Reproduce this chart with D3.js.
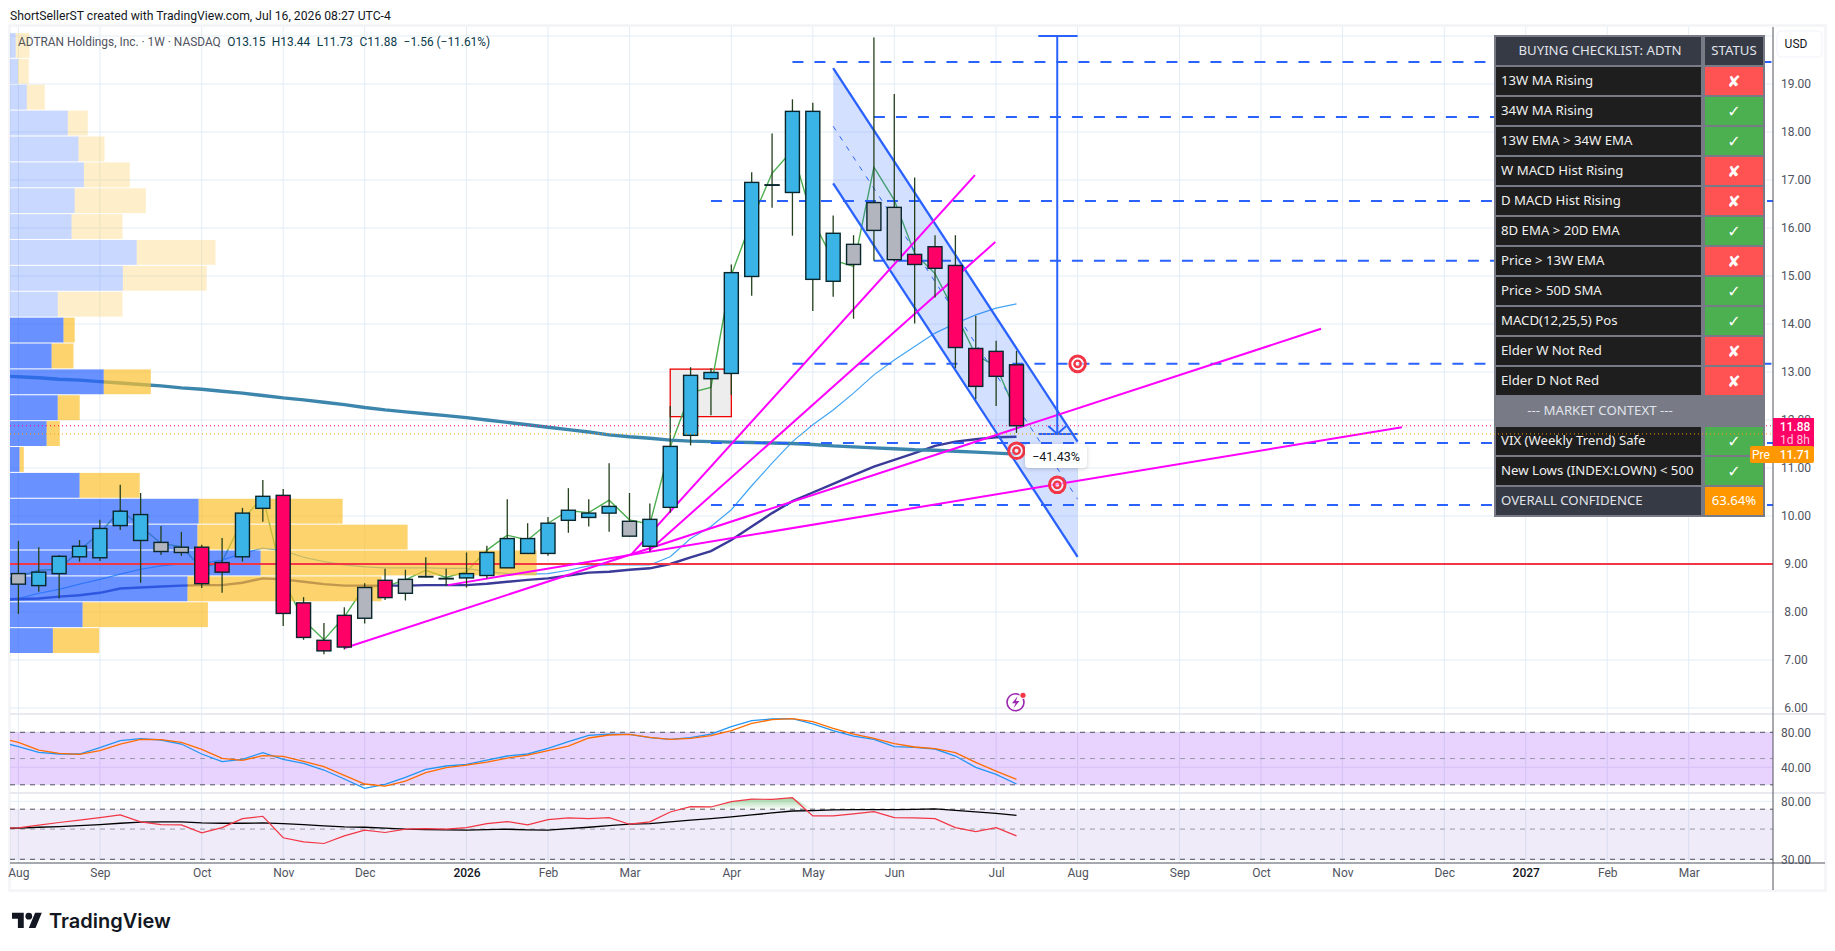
<!DOCTYPE html>
<html>
<head>
<meta charset="utf-8">
<style>
  body { margin: 0; background: #fff; }
  text { font-family: Roboto, sans-serif; }
</style>
<script src="https://cdn.jsdelivr.net/npm/d3@7"></script>
</head>
<body>
<div id="chart"></div>
<script>
// weekly candles, index 0 is the first week of Aug 2025
const highs = [9.48,9.35,9.19,9.50,9.92,10.65,10.48,9.79,9.67,9.40,9.54,10.17,10.75,10.56,8.31,7.77,8.10,8.60,8.90,8.88,9.14,8.90,9.24,9.38,10.35,9.85,9.98,10.58,10.35,11.10,10.48,10.26,12.29,13.10,13.08,15.24,17.16,17.97,18.68,18.61,16.26,15.85,19.97,18.79,17.05,15.85,15.85,14.17,13.65,13.44];
const lows = [7.96,8.42,8.28,9.05,9.06,9.71,8.61,9.19,9.17,8.50,8.40,9.05,9.88,7.71,7.42,7.12,7.22,7.76,8.25,8.24,8.72,8.55,8.51,8.70,8.92,9.22,9.17,9.65,9.78,9.67,9.58,9.26,10.07,11.47,12.10,12.52,14.59,16.42,15.84,14.27,14.57,14.11,15.32,15.30,14.01,14.55,13.08,12.43,12.29,11.73];
const bodyTop = [8.80,8.83,9.16,9.37,9.74,10.10,10.03,9.45,9.35,9.35,9.03,10.06,10.41,10.43,8.19,7.41,7.93,8.51,8.66,8.68,8.74,8.70,8.80,9.24,9.53,9.53,9.85,10.12,10.06,10.20,9.89,9.93,11.45,12.93,12.99,15.07,16.95,16.90,18.43,18.43,15.89,15.66,16.53,16.43,15.45,15.61,15.22,13.49,13.43,13.15];
const bodyBottom = [8.58,8.55,8.80,9.15,9.13,9.80,9.49,9.26,9.24,8.59,8.83,9.15,10.16,7.97,7.47,7.19,7.27,7.87,8.30,8.39,8.74,8.70,8.71,8.76,8.92,9.22,9.22,9.91,9.97,10.06,9.58,9.37,10.18,11.68,12.86,12.97,14.99,16.90,16.74,14.93,14.89,15.24,15.95,15.34,15.24,15.16,13.51,12.70,12.91,11.88];
const impulse = 'gbbbbbbggrrbbrrrrgrgbbbbbbbbbbgbbbbbbbbbbgggrrrrrr'.slice(0, 50).split('');

// overlay series all start one week before the first candle so they reach the pane edge
const closeLine = [8.60,8.74,8.87,8.89,9.29,9.64,10.13,9.78,9.43,9.36,8.91,9.05,9.92,10.40,8.67,7.83,7.42,7.90,8.53,8.53,8.67,8.87,8.72,8.84,9.29,9.60,9.50,9.85,10.11,10.07,10.33,9.92,9.83,11.44,12.57,12.68,15.02,16.16,17.14,17.62,16.16,15.33,15.20,17.27,16.58,15.47,15.05,14.22,13.35,13.12,12.14];
const maFast = [8.20,8.28,8.39,8.47,8.58,8.68,8.79,8.89,8.96,9.00,9.01,9.08,9.22,9.33,9.28,9.14,9.05,8.98,8.94,8.92,8.92,8.92,8.91,8.91,8.84,8.80,8.79,8.80,8.87,8.96,8.98,8.98,8.98,9.15,9.53,9.78,10.13,10.63,11.10,11.55,11.90,12.21,12.56,12.94,13.25,13.53,13.81,14.01,14.19,14.33,14.42];
const maMid = [8.26,8.27,8.28,8.32,8.35,8.40,8.49,8.51,8.53,8.55,8.56,8.56,8.61,8.70,8.68,8.63,8.58,8.55,8.55,8.55,8.55,8.56,8.56,8.56,8.59,8.63,8.67,8.70,8.76,8.82,8.84,8.88,8.91,9.00,9.14,9.27,9.50,9.78,10.06,10.31,10.49,10.67,10.85,11.03,11.17,11.31,11.46,11.55,11.60,11.64,11.65];
const maSlow = [12.92,12.90,12.88,12.85,12.83,12.80,12.77,12.74,12.71,12.67,12.64,12.60,12.56,12.51,12.46,12.42,12.37,12.32,12.26,12.21,12.17,12.13,12.09,12.05,12.00,11.95,11.90,11.85,11.80,11.75,11.69,11.65,11.62,11.58,11.56,11.55,11.54,11.53,11.52,11.51,11.49,11.46,11.44,11.42,11.40,11.38,11.37,11.35,11.33,11.31,11.29];

// volume profile, top row first
const upVolume = [5.7,8,16.8,57.8,68.5,73.9,64.7,61.6,126.7,112.9,47.8,53.6,41.7,93.8,47.8,36.7,9.6,69.7,188.7,187.5,250.7,177.6,72.7,42.9];
const totalVolume = [19.5,18.8,34.8,77.7,94.5,119.8,135.9,112.5,205.5,196.7,112.5,64.7,63.5,140.8,69.7,49.8,13.8,129.7,332.6,397.6,526.6,371.6,197.9,89.2];

// stochastic pane
const stochK = [69.6,63.6,57.1,55.2,55.2,62.4,70.4,72.7,71.2,66.6,55.2,46.4,49.1,56.7,49.1,44.5,36.9,26.6,15.9,20.5,28.5,37.7,41.5,43.4,48.3,52.9,55.2,61.7,69.3,76.5,78.0,77.7,73.8,71.9,73.8,78.0,86.4,93.3,95.2,95.6,89.5,81.9,75.7,71.9,63.6,62.8,60.9,52.9,39.9,31.9,20.9];
const stochD = [74.2,68.5,59.7,55.9,54.8,59.0,66.6,71.9,71.6,68.5,60.5,50.2,47.9,53.3,52.5,46.8,40.7,30.8,20.9,18.6,24.3,33.8,39.6,42.6,46.0,50.6,54.0,59.0,64.3,73.5,76.9,77.7,74.2,71.9,73.1,76.1,81.8,90.2,94.4,95.6,92.1,84.5,78.0,73.1,67.0,63.2,61.3,56.7,45.6,35.7,26.2];

// rsi pane
const rsi = [50.5,51.0,53.4,55.9,58.1,60.7,63.5,56.5,54.0,53.7,46.9,51.3,59.7,62.1,43.2,40.3,39.2,44.6,49.1,47.2,49.9,50.4,49.9,51.3,54.9,56.8,53.7,58.7,60.4,59.7,60.7,54.3,56.5,66.8,73.1,72.7,79.5,83.1,82.6,85.0,62.5,62.5,64.6,67.2,60.7,60.4,59.7,51.3,47.9,51.3,44.6];
const rsiMa = [50.6,50.8,51.6,52.2,53.0,54.0,55.2,56.2,56.5,56.5,55.5,55.2,55.2,55.5,54.9,54.0,52.8,51.9,51.6,50.8,49.9,49.6,49.4,49.1,49.6,49.9,49.4,49.1,50.4,51.6,53.0,54.3,54.9,56.5,58.1,59.7,61.4,63.5,65.7,67.9,68.3,69.1,69.5,69.5,69.5,69.9,70.3,68.7,66.8,65.3,63.1];

// axes
const priceTicks = [20,19,18,17,16,15,14,13,12,11,10,9,8,7,6];
const monthWeeks = [0,4,9,13,17,22,26,30,35,39,43,48,52,57,61,65,70,74,78,82];
const monthLabels = ['Aug','Sep','Oct','Nov','Dec','2026','Feb','Mar','Apr','May','Jun','Jul','Aug','Sep','Oct','Nov','Dec','2027','Feb','Mar'];

// drawings, as [week, price]
const trendLines = [
  [[30.07,9.19],[46.96,17.10]],
  [[31.0,9.29],[47.96,15.71]],
  [[21.08,8.56],[67.92,11.85]],
  [[16.02,7.25],[63.95,13.90]]
];
const levelPrices = [19.46,18.31,16.56,15.32,13.17,11.52,10.23];
const levelStarts = [38,42,34,42,38,34,34];
const channelTop = [[40,19.33],[52,11.55]];
const channelMid = [[40,18.12],[52,10.35]];
const channelBottom = [[40,16.93],[52,9.15]];
const targets = [[52,13.17],[49,11.36],[51,10.65]];

// checklist
const checkRows = ['13W MA Rising','34W MA Rising','13W EMA > 34W EMA','W MACD Hist Rising','D MACD Hist Rising','8D EMA > 20D EMA','Price > 13W EMA','Price > 50D SMA','MACD(12,25,5) Pos','Elder W Not Red','Elder D Not Red','--- MARKET CONTEXT ---','VIX (Weekly Trend) Safe','New Lows (INDEX:LOWN) < 500','OVERALL CONFIDENCE'];
const checkStatus = ['x','v','v','x','x','v','x','v','v','x','x','','v','v','63.64%'];

const W = 1835, H = 951;
const left = 10, axisX = 1773, rightEdge = 1825;
const mainTop = 27, mainBottom = 713;
const stochTop = 715, stochBottom = 792;
const rsiTop = 794, rsiBottom = 863;

const svg = d3.select('#chart').append('svg')
  .attr('width', W).attr('height', H)
  .style('display', 'block');

const x = d3.scaleLinear().domain([0, 49]).range([18.4, 1016.5]);
const y = d3.scaleLinear().domain([19, 6]).range([84, 708]);
const yStoch = d3.scaleLinear().domain([80, 40]).range([732.3, 767.3]);
const yRsi = d3.scaleLog().domain([30, 80]).range([859.3, 801.3]);
const xVol = d3.scaleLinear().domain([0, 100]).range([left, left + 100]);
const yVol = d3.scaleBand().domain(d3.range(upVolume.length)).range([33, 653]).paddingInner(0.04);

const defs = svg.append('defs');
[['mainClip', mainTop, mainBottom], ['stochClip', stochTop, stochBottom], ['rsiClip', rsiTop, rsiBottom]].forEach(c => {
  defs.append('clipPath').attr('id', c[0]).append('rect')
    .attr('x', left).attr('y', c[1]).attr('width', axisX - left).attr('height', c[2] - c[1]);
});
const grad = defs.append('linearGradient').attr('id', 'obFill').attr('x1', 0).attr('x2', 0).attr('y1', 0).attr('y2', 1);
grad.append('stop').attr('offset', '0%').attr('stop-color', '#4caf50').attr('stop-opacity', 0.55);
grad.append('stop').attr('offset', '100%').attr('stop-color', '#4caf50').attr('stop-opacity', 0.02);

// outer frame
svg.append('rect').attr('x', 9.5).attr('y', 25.5).attr('width', 1816).attr('height', 865)
  .attr('fill', 'none').attr('stroke', '#f3f4f6').attr('stroke-width', 2.5);

// grid
const grid = svg.append('g').attr('stroke', '#e4edf4').attr('stroke-width', 1);
grid.selectAll('.v').data(monthWeeks).join('line')
  .attr('x1', d => x(d)).attr('x2', d => x(d)).attr('y1', mainTop).attr('y2', rsiBottom);
grid.selectAll('.h').data(priceTicks).join('line')
  .attr('x1', left).attr('x2', axisX).attr('y1', d => y(d)).attr('y2', d => y(d));
grid.selectAll('.hs').data([80, 40]).join('line')
  .attr('x1', left).attr('x2', axisX).attr('y1', d => yStoch(d)).attr('y2', d => yStoch(d));
grid.selectAll('.hr').data([80, 30]).join('line')
  .attr('x1', left).attr('x2', axisX).attr('y1', d => yRsi(d)).attr('y2', d => yRsi(d));

const main = svg.append('g').attr('clip-path', 'url(#mainClip)');
const lineFrom = d3.line().x((d, i) => x(i - 1)).y(d => y(d));
const seg = d3.line().x(d => x(d[0])).y(d => y(d[1]));

// red box behind the candles
main.append('rect')
  .attr('x', x(32)).attr('y', y(13.06))
  .attr('width', x(35) - x(32)).attr('height', y(12.07) - y(13.06))
  .attr('fill', '#ededed').attr('stroke', '#f00000').attr('stroke-width', 1.3);

// averages sit under the volume profile
const maStyles = [
  [closeLine, '#4caf50', 1.4],
  [maFast, '#42a5f5', 1.2],
  [maMid, '#3a3a98', 2.4],
  [maSlow, '#3c86ad', 3.4]
];
maStyles.forEach(m => {
  main.append('path').attr('d', lineFrom(m[0]))
    .attr('fill', 'none').attr('stroke', m[1]).attr('stroke-width', m[2]);
});

// volume profile
const vp = main.append('g');
vp.selectAll('.up').data(upVolume).join('rect')
  .attr('x', xVol(0)).attr('y', (d, i) => yVol(i))
  .attr('width', d => xVol(d) - xVol(0)).attr('height', yVol.bandwidth())
  .attr('fill', (d, i) => i < 11 ? 'rgba(41,98,255,.25)' : 'rgba(41,98,255,.7)');
vp.selectAll('.down').data(totalVolume).join('rect')
  .attr('x', (d, i) => xVol(upVolume[i])).attr('y', (d, i) => yVol(i))
  .attr('width', (d, i) => xVol(d) - xVol(upVolume[i])).attr('height', yVol.bandwidth())
  .attr('fill', (d, i) => i < 11 ? 'rgba(251,192,45,.25)' : 'rgba(251,192,45,.7)');

// 9.00 line and last price
main.append('line').attr('x1', left).attr('x2', axisX).attr('y1', y(9)).attr('y2', y(9))
  .attr('stroke', '#f23645').attr('stroke-width', 2.2);
main.append('line').attr('x1', left).attr('x2', axisX).attr('y1', y(11.88)).attr('y2', y(11.88))
  .attr('stroke', '#ff0066').attr('stroke-width', 1).attr('stroke-dasharray', '1 3');

// channel
const channel = main.append('g');
channel.append('path')
  .attr('d', seg([channelTop[0], channelTop[1], channelBottom[1], channelBottom[0]]) + 'Z')
  .attr('fill', 'rgba(41,98,255,.2)');
channel.append('path').attr('d', seg(channelMid)).attr('fill', 'none')
  .attr('stroke', '#2962ff').attr('stroke-width', 1).attr('stroke-dasharray', '5 7');
[channelTop, channelBottom].forEach(c => {
  channel.append('path').attr('d', seg(c)).attr('fill', 'none')
    .attr('stroke', '#2962ff').attr('stroke-width', 2.3);
});

// dashed levels
main.selectAll('.level').data(levelPrices).join('line')
  .attr('x1', (d, i) => x(levelStarts[i])).attr('x2', axisX)
  .attr('y1', d => y(d)).attr('y2', d => y(d))
  .attr('stroke', '#2962ff').attr('stroke-width', 2).attr('stroke-dasharray', '11 11');

// magenta trend lines
main.selectAll('.trend').data(trendLines).join('path')
  .attr('d', seg).attr('fill', 'none')
  .attr('stroke', '#ff00ff').attr('stroke-width', 2);

// price range arrow
const rangeTop = 20.0, rangeBottom = 11.71, rangeFrom = 50.07, rangeTo = 52, rangeMid = 51;
const arrow = main.append('g').attr('stroke', '#2962ff').attr('fill', 'none').attr('stroke-width', 2);
arrow.append('line').attr('x1', x(rangeFrom)).attr('x2', x(rangeTo)).attr('y1', y(rangeTop)).attr('y2', y(rangeTop));
arrow.append('line').attr('x1', x(rangeFrom)).attr('x2', x(rangeTo)).attr('y1', y(rangeBottom)).attr('y2', y(rangeBottom));
arrow.append('line').attr('x1', x(rangeMid)).attr('x2', x(rangeMid)).attr('y1', y(rangeTop)).attr('y2', y(rangeBottom));
arrow.append('path').attr('d', `M${x(rangeMid) - 9},${y(rangeBottom) - 8}L${x(rangeMid)},${y(rangeBottom)}L${x(rangeMid) + 9},${y(rangeBottom) - 8}`);

// candles
const bodyColor = { b: '#3ab3e6', r: '#ff0066', g: '#b2b5be' };
const candles = main.selectAll('.candle').data(d3.range(highs.length)).join('g');
candles.append('line')
  .attr('x1', d => x(d)).attr('x2', d => x(d))
  .attr('y1', d => y(highs[d])).attr('y2', d => y(lows[d]))
  .attr('stroke', '#24401c').attr('stroke-width', 1.3);
candles.append('rect')
  .attr('x', d => x(d) - 7).attr('width', 14)
  .attr('y', d => y(bodyTop[d]))
  .attr('height', d => Math.max(0.5, y(bodyBottom[d]) - y(bodyTop[d])))
  .attr('fill', d => bodyColor[impulse[d]])
  .attr('stroke', '#08262c').attr('stroke-width', 1.4);

// targets
const target = main.selectAll('.target').data(targets).join('g')
  .attr('transform', d => `translate(${x(d[0])},${y(d[1])})`)
  .attr('fill', 'none').attr('stroke', '#f23645');
target.append('circle').attr('r', 7.8).attr('stroke-width', 3).attr('fill', 'rgba(255,255,255,.55)');
target.append('circle').attr('r', 3.2).attr('stroke-width', 2.4);

// range label
main.append('rect').attr('x', 1025).attr('y', 444).attr('width', 62).attr('height', 24).attr('rx', 4)
  .attr('fill', '#fff').style('filter', 'drop-shadow(0 1px 2px rgba(0,0,0,.18))');
main.append('text').attr('x', 1056).attr('y', 460.5).attr('text-anchor', 'middle')
  .attr('font-size', 12.5).attr('fill', '#131722').text('\u221241.43%');

// earnings-style icon
const icon = main.append('g').attr('transform', `translate(${x(49) - 1},${y(6.12)})`);
icon.append('circle').attr('r', 8.5).attr('fill', '#fff').attr('stroke', '#9c27b0').attr('stroke-width', 1.6);
icon.append('path').attr('d', 'M2,-6L-3.5,1H0L-2,6L4,-1.2H0.5Z').attr('fill', '#9c27b0');
icon.append('circle').attr('cx', 7.5).attr('cy', -7).attr('r', 3.6).attr('fill', '#fff');
icon.append('circle').attr('cx', 7.5).attr('cy', -7).attr('r', 2.6).attr('fill', '#f23645');

// stochastic pane
const stochPane = svg.append('g').attr('clip-path', 'url(#stochClip)');
stochPane.append('rect').attr('x', left).attr('width', axisX - left)
  .attr('y', yStoch(80)).attr('height', yStoch(20) - yStoch(80))
  .attr('fill', 'rgba(149,50,250,.22)');
[80, 20, 50].forEach(v => {
  stochPane.append('line').attr('x1', left).attr('x2', axisX).attr('y1', yStoch(v)).attr('y2', yStoch(v))
    .attr('stroke', v === 50 ? '#9a9aa8' : '#50535e').attr('stroke-width', 1).attr('stroke-dasharray', '5 5');
});
const stochLine = d3.line().x((d, i) => x(i - 1)).y(d => yStoch(d));
stochPane.append('path').attr('d', stochLine(stochK)).attr('fill', 'none').attr('stroke', '#2196f3').attr('stroke-width', 1.3);
stochPane.append('path').attr('d', stochLine(stochD)).attr('fill', 'none').attr('stroke', '#ff6d00').attr('stroke-width', 1.3);

// rsi pane
const rsiPane = svg.append('g').attr('clip-path', 'url(#rsiClip)');
rsiPane.append('rect').attr('x', left).attr('width', axisX - left)
  .attr('y', yRsi(70)).attr('height', yRsi(30) - yRsi(70))
  .attr('fill', 'rgba(126,87,194,.12)');
[70, 30, 50].forEach(v => {
  rsiPane.append('line').attr('x1', left).attr('x2', axisX).attr('y1', yRsi(v)).attr('y2', yRsi(v))
    .attr('stroke', v === 50 ? '#9a9aa8' : '#50535e').attr('stroke-width', 1).attr('stroke-dasharray', '5 5');
});
const rsiArea = d3.area().x(d => x(d)).y0(yRsi(70)).y1(d => yRsi(Math.max(rsi[d + 1], 70)));
rsiPane.append('path').attr('d', rsiArea(d3.range(32, 40))).attr('fill', 'url(#obFill)');
const rsiLine = d3.line().x((d, i) => x(i - 1)).y(d => yRsi(d));
rsiPane.append('path').attr('d', rsiLine(rsiMa)).attr('fill', 'none').attr('stroke', '#000').attr('stroke-width', 1.3);
rsiPane.append('path').attr('d', rsiLine(rsi)).attr('fill', 'none').attr('stroke', '#f23645').attr('stroke-width', 1.2);

// pane separators and axis lines
[714, 793].forEach(s => {
  svg.append('line').attr('x1', left).attr('x2', rightEdge).attr('y1', s).attr('y2', s)
    .attr('stroke', '#e0e3eb').attr('stroke-width', 1.5);
});
svg.append('line').attr('x1', axisX).attr('x2', axisX).attr('y1', mainTop).attr('y2', 890)
  .attr('stroke', '#50535e').attr('stroke-width', 1);
svg.append('line').attr('x1', left).attr('x2', rightEdge).attr('y1', rsiBottom).attr('y2', rsiBottom)
  .attr('stroke', '#50535e').attr('stroke-width', 1);

// axes, 20.00 only has a grid line because the USD box sits on it
function styleAxis(g) {
  g.select('.domain').remove();
  g.selectAll('.tick line').remove();
  g.selectAll('text').attr('fill', '#50535e').attr('font-size', 12).attr('text-anchor', 'middle').attr('x', 0);
  g.attr('font-family', null);
}
const priceAxis = svg.append('g').attr('transform', 'translate(1796,0)')
  .call(d3.axisRight(y).tickValues(priceTicks.slice(1)).tickFormat(d3.format('.2f')));
styleAxis(priceAxis);
const stochAxis = svg.append('g').attr('transform', 'translate(1796,0)')
  .call(d3.axisRight(yStoch).tickValues([80, 40]).tickFormat(d3.format('.2f')));
styleAxis(stochAxis);
const rsiAxis = svg.append('g').attr('transform', 'translate(1796,0)')
  .call(d3.axisRight(yRsi).tickValues([80, 30]).tickFormat(d3.format('.2f')));
styleAxis(rsiAxis);
const timeAxis = svg.append('g').attr('transform', 'translate(0,868)')
  .call(d3.axisBottom(x).tickValues(monthWeeks).tickFormat((d, i) => monthLabels[i]).tickSize(0).tickPadding(0));
timeAxis.select('.domain').remove();
timeAxis.attr('font-family', null);
timeAxis.selectAll('text').attr('fill', '#50535e').attr('font-size', 12)
  .filter((d, i) => monthLabels[i].startsWith('20')).attr('fill', '#131722').attr('font-weight', 500);

// price labels
svg.append('rect').attr('x', 1777).attr('y', 31).attr('width', 45).attr('height', 26).attr('rx', 4)
  .attr('fill', '#fff').attr('stroke', '#f0f3fa');
svg.append('text').attr('x', 1796).attr('y', 48).attr('text-anchor', 'middle')
  .attr('font-size', 12).attr('fill', '#131722').text('USD');

// checklist table
const tableX = 1494, tableW = 271, cellW = 209, statusX = 1705, statusW = 58;
const rowY = d3.scaleBand().domain(d3.range(checkRows.length)).range([66, 516]).paddingInner(0);
const table = svg.append('g');
table.append('rect').attr('x', tableX).attr('y', 35).attr('width', tableW).attr('height', 482).attr('fill', '#787b86');
table.append('rect').attr('x', tableX + 2).attr('y', 37).attr('width', cellW - 4).attr('height', 28).attr('fill', '#363a45');
table.append('rect').attr('x', statusX).attr('y', 37).attr('width', statusW).attr('height', 28).attr('fill', '#363a45');
const textFont = 'Noto Sans, sans-serif';
const fontSize = 13.2;
table.append('text').attr('x', 1600).attr('y', 54.5).attr('text-anchor', 'middle')
  .attr('fill', '#e0e3eb').attr('font-size', fontSize).style('font-family', textFont).text('BUYING CHECKLIST: ADTN');
table.append('text').attr('x', 1734).attr('y', 54.5).attr('text-anchor', 'middle')
  .attr('fill', '#e0e3eb').attr('font-size', fontSize).style('font-family', textFont).text('STATUS');
const statusColor = { x: '#ff5252', v: '#4caf50' };
const statusGlyph = { x: '\u2718', v: '\u2713' };
checkRows.forEach((label, i) => {
  const top = rowY(i) + 1;
  const isContext = checkStatus[i] === '';
  const isTotal = i === checkRows.length - 1;
  if (isContext) {
    table.append('text').attr('x', 1600).attr('y', top + 18).attr('text-anchor', 'middle')
      .attr('fill', '#e0e3eb').attr('font-size', fontSize).style('font-family', textFont).text(label);
    return;
  }
  table.append('rect').attr('x', tableX + 2).attr('y', top).attr('width', cellW - 4).attr('height', 28)
    .attr('fill', isTotal ? '#363a45' : '#1e1e1e');
  table.append('rect').attr('x', statusX).attr('y', top).attr('width', statusW).attr('height', 28)
    .attr('fill', isTotal ? '#ff9800' : statusColor[checkStatus[i]]);
  table.append('text').attr('x', 1501).attr('y', top + 18)
    .attr('fill', isTotal ? '#e0e3eb' : '#f0f0f0').attr('font-size', fontSize).style('font-family', textFont).text(label);
  table.append('text').attr('x', 1734).attr('y', top + (isTotal ? 18 : 19.5)).attr('text-anchor', 'middle')
    .attr('fill', '#fff').attr('font-size', isTotal ? fontSize : 16)
    .attr('font-weight', isTotal ? 400 : 700)
    .style('font-family', isTotal ? textFont : 'DejaVu Sans, sans-serif')
    .text(isTotal ? checkStatus[i] : statusGlyph[checkStatus[i]]);
});

// premarket dotted line crosses over the table
svg.append('line').attr('x1', left).attr('x2', axisX).attr('y1', y(11.71)).attr('y2', y(11.71))
  .attr('stroke', '#ff9800').attr('stroke-width', 1).attr('stroke-dasharray', '1 3');

// last price tags
svg.append('rect').attr('x', axisX).attr('y', 418).attr('width', 41).attr('height', 29).attr('fill', '#ff0066');
svg.append('text').attr('x', 1795).attr('y', 431).attr('text-anchor', 'middle')
  .attr('fill', '#fff').attr('font-size', 12).attr('font-weight', 500).text('11.88');
svg.append('text').attr('x', 1795).attr('y', 444).attr('text-anchor', 'middle')
  .attr('fill', '#ffc4dc').attr('font-size', 12).text('1d 8h');
svg.append('rect').attr('x', 1750).attr('y', 446).attr('width', 64).attr('height', 17).attr('rx', 2).attr('fill', '#ff9800');
svg.append('text').attr('x', 1761).attr('y', 459).attr('text-anchor', 'middle')
  .attr('fill', '#fff').attr('font-size', 12).text('Pre');
svg.append('text').attr('x', 1795).attr('y', 459).attr('text-anchor', 'middle')
  .attr('fill', '#fff').attr('font-size', 12).attr('font-weight', 500).text('11.71');

// header text
svg.append('text').attr('x', 10).attr('y', 19.5).attr('font-size', 12.2).attr('fill', '#131722')
  .text('ShortSellerST created with TradingView.com, Jul 16, 2026 08:27 UTC-4');
const legend = svg.append('text').attr('x', 18).attr('y', 46).attr('font-size', 11.9).attr('fill', '#50535e');
legend.append('tspan').text('ADTRAN Holdings, Inc. \u00b7 1W \u00b7 NASDAQ');
legend.append('tspan').attr('dx', 6.5).attr('fill', '#0b3a4a').text('O13.15');
legend.append('tspan').attr('dx', 6.5).attr('fill', '#0b3a4a').text('H13.44');
legend.append('tspan').attr('dx', 6.5).attr('fill', '#0b3a4a').text('L11.73');
legend.append('tspan').attr('dx', 6.5).attr('fill', '#0b3a4a').text('C11.88');
legend.append('tspan').attr('dx', 6.5).attr('fill', '#0b3a4a').text('\u22121.56 (\u221211.61%)');

// logo
const logo = svg.append('g').attr('transform', 'translate(12,909.5) scale(0.84)').attr('fill', '#131722');
logo.append('path').attr('d', 'M14 22H7V11H0V4h14v18zM28 22h-8l7.5-18h8L28 22z');
logo.append('circle').attr('cx', 20).attr('cy', 8).attr('r', 4);
svg.append('text').attr('x', 49).attr('y', 928).attr('font-size', 20).attr('font-weight', 600)
  .attr('fill', '#131722').style('font-family', 'Inter, sans-serif').text('TradingView');
</script>
</body>
</html>
